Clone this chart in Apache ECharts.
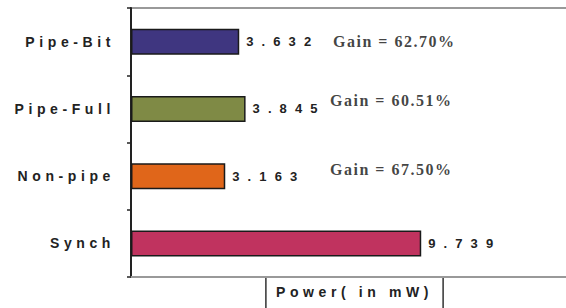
<!DOCTYPE html>
<html>
<head>
<meta charset="utf-8">
<script src="https://cdn.jsdelivr.net/npm/echarts/dist/echarts.min.js"></script>
<style>
  html, body { margin: 0; padding: 0; background: #fff; }
  #chart { width: 566px; height: 308px; }
  #chart text { letter-spacing: 4.6px; }
  #chart text[style*="13px"] { letter-spacing: 8.1px; }
  #chart text[style*="Serif"] { letter-spacing: 1.5px; }
</style>
</head>
<body>
<div id="chart"></div>
<script>
// ---- data ----
const categories = ['Pipe-Bit', 'Pipe-Full', 'Non-pipe', 'Synch'];
const powerValues = [3.632, 3.845, 3.163, 9.739];
const valueLabels = ['3.632', '3.845', '3.163', '9.739'];
const gainLabels = ['62.70%', '60.51%', '67.50%', null];
const barColors = ['#3f3680', '#7f8a45', '#e0661a', '#c0335f'];
const axisName = 'Power( in mW)';

// ---- layout constants ----
const GAIN_X = 6.68;
const gainOffsets = [[3, 0], [0, -8], [0, -7], [0, 0]];

const chart = echarts.init(document.getElementById('chart'), null, { renderer: 'svg' });

const barData = powerValues.map((v, i) => ({
  value: v,
  itemStyle: { color: barColors[i] },
  label: { formatter: valueLabels[i] }
}));

const gainData = [];
gainLabels.forEach((g, i) => {
  if (g === null) return;
  gainData.push({
    value: [GAIN_X, categories[i]],
    label: { formatter: 'Gain = ' + g, offset: gainOffsets[i] }
  });
});

chart.setOption({
  animation: false,
  backgroundColor: '#ffffff',
  grid: {
    left: 131, right: -12, top: 8, bottom: 31,
    containLabel: false, outerBoundsMode: 'none',
    show: true, borderColor: '#999999', borderWidth: 2, backgroundColor: 'transparent'
  },
  xAxis: [{
    type: 'value', min: 0, max: 15, position: 'bottom',
    axisLine: { show: true, lineStyle: { color: '#999999', width: 2 } },
    axisTick: { show: false },
    axisLabel: { show: false }, splitLine: { show: false },
    name: axisName, nameLocation: 'middle', nameGap: 0,
    nameTextStyle: {
      fontFamily: 'Liberation Sans', fontWeight: 'bold', fontSize: 14, color: '#222',
      borderColor: '#333', borderWidth: 1.5, padding: [8, 40, 20, 40],
      verticalAlign: 'top'
    }
  }],
  yAxis: {
    type: 'category', data: categories, inverse: true,
    axisLine: { show: true, lineStyle: { color: '#222', width: 2 } },
    axisTick: { show: true, length: 4, lineStyle: { color: '#222', width: 1.5 } },
    axisLabel: {
      margin: 16, fontFamily: 'Liberation Sans', fontWeight: 'bold',
      fontSize: 14, color: '#222'
    },
    splitLine: { show: false }
  },
  series: [
    {
      type: 'bar', data: barData, barWidth: 26,
      itemStyle: { borderColor: '#1a1a1a', borderWidth: 1.5 },
      label: {
        show: true, position: 'right', distance: 7,
        fontFamily: 'Liberation Sans', fontWeight: 'bold', fontSize: 13, color: '#222'
      }
    },
    {
      type: 'scatter', data: gainData, symbolSize: 0, silent: true,
      label: {
        show: true, position: 'right', distance: 0,
        fontFamily: "'Liberation Serif', 'DejaVu Serif', serif", fontWeight: 'bold',
        fontSize: 16, color: '#111'
      }
    }
  ]
});
</script>
</body>
</html>
